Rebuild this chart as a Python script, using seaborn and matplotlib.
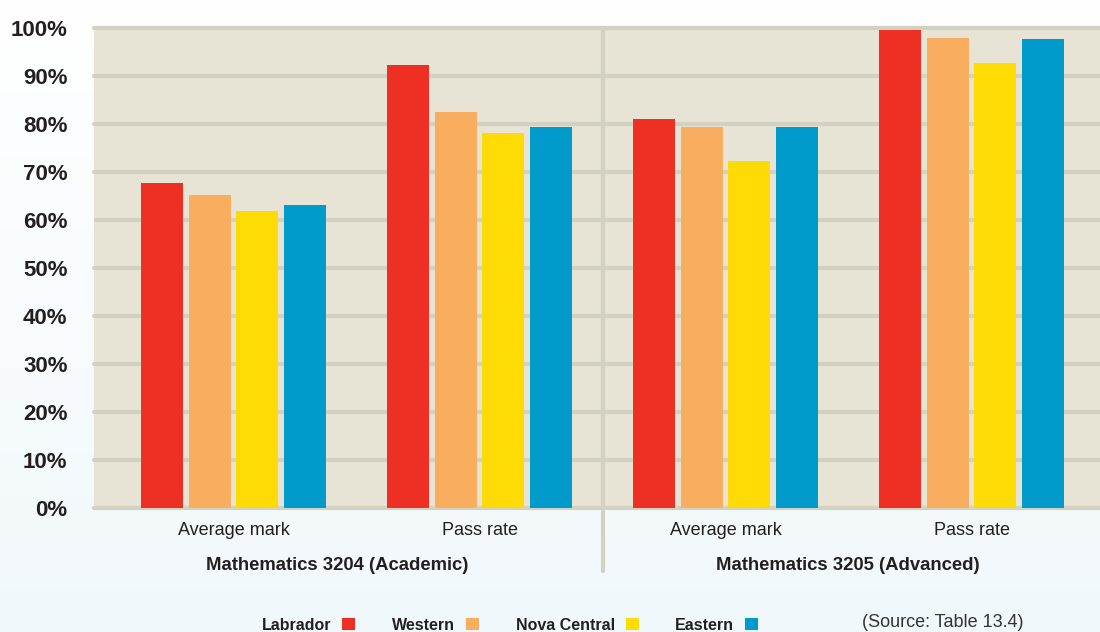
import numpy as np
import pandas as pd
import seaborn as sns
import matplotlib.pyplot as plt
from matplotlib.colors import LinearSegmentedColormap
from matplotlib import transforms

regions = ["Labrador", "Western", "Nova Central", "Eastern"]
measures = ["Average mark", "Pass rate", "Average mark", "Pass rate"]
courses = ["Mathematics 3204 (Academic)", "Mathematics 3205 (Advanced)"]
labrador = [67.7, 92.3, 81.0, 99.6]
western = [65.2, 82.5, 79.4, 97.9]
nova_central = [61.9, 78.1, 72.3, 92.7]
eastern = [63.1, 79.4, 79.4, 97.7]
yticks = list(range(0, 101, 10))
source = "(Source: Table 13.4)"

colors = ["#ee2f24", "#f9ad5e", "#fedb05", "#009bcb"]
grid_col = "#d3d1c1"
text_col = "#231f20"

sns.set_theme(style="white")
plt.rcParams['font.family'] = ["Liberation Sans", "DejaVu Sans"]

# long table, one slot per bar group (labels repeat, so keep slots unique)
slots = [f"g{i}" for i in range(len(measures))]
rows = []
for reg, vals in zip(regions, [labrador, western, nova_central, eastern]):
    for s, v in zip(slots, vals):
        rows.append({"slot": s, "region": reg, "value": v})
df = pd.DataFrame(rows)

fig = plt.figure(figsize=(11, 6.32), dpi=100)

# soft white -> pale blue page background
bg = fig.add_axes([0, 0, 1, 1], zorder=-10)
cmap = LinearSegmentedColormap.from_list("page", ["#ffffff", "#f1f8fb"])
bg.imshow(np.linspace(0, 1, 256).reshape(-1, 1), cmap=cmap, aspect="auto",
          extent=[0, 1, 0, 1], origin="upper")
bg.axis("off")

ax = fig.add_axes([94 / 1100, 124 / 632, 1 - 94 / 1100, 480 / 632])
sns.barplot(data=df, x="slot", y="value", hue="region", order=slots,
            hue_order=regions, palette=colors, saturation=1, width=0.776,
            gap=0.12, linewidth=0, ax=ax)

ax.set_facecolor("#e7e4d5")
ax.set_xlim(-0.567, 3.522)
ax.set_ylim(0, 100)
ax.set_axisbelow(True)
ax.yaxis.grid(True, color=grid_col, lw=3)
ax.xaxis.grid(False)
for gl in ax.get_ygridlines():
    gl.set_clip_on(False)
for sp in ax.spines.values():
    sp.set_visible(False)

ax.set_xlabel("")
ax.set_ylabel("")
ax.set_yticks(yticks, [f"{v}%" for v in yticks])
ax.tick_params(axis="y", length=8, width=3, color=grid_col, pad=11,
               labelsize=16, labelcolor=text_col)
for lab in ax.get_yticklabels():
    lab.set_fontweight("bold")
ax.set_xticks(range(len(measures)), measures)
ax.tick_params(axis="x", length=0, pad=10, labelsize=13, labelcolor=text_col)

# divider between the two courses
ax.axvline(1.5, ymin=-0.131, ymax=1, clip_on=False, color=grid_col, lw=3)

trans = transforms.blended_transform_factory(ax.transData, ax.transAxes)
for xpos, course in zip([0.421, 2.498], courses):
    ax.text(xpos, -0.119, course, transform=trans, ha="center", va="center",
            fontsize=13.3, fontweight="bold", color=text_col)

handles, labels = ax.get_legend_handles_labels()
ax.get_legend().remove()
fig.legend(handles, labels, loc="center", bbox_to_anchor=(510 / 1100, 0.011),
           ncol=4, markerfirst=False, frameon=False, handlelength=0.81,
           handleheight=0.81, handletextpad=0.69, columnspacing=2.3,
           prop={"weight": "bold", "size": 11.5})
for t in fig.legends[0].get_texts():
    t.set_color(text_col)

fig.text(862 / 1100, 5 / 632, source, ha="left", va="baseline", fontsize=13,
         color="#333333")

fig.savefig("out.png", dpi=100)
